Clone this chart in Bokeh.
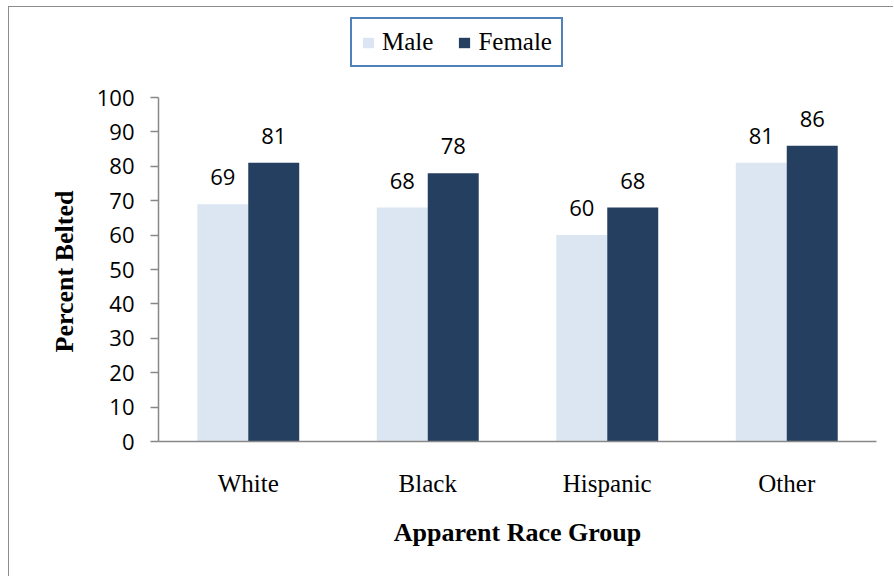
from bokeh.plotting import figure
from bokeh.models import (FactorRange, Legend, LegendItem, ColumnDataSource, Range1d,
                          FixedTicker, Title)
from bokeh.transform import dodge
from bokeh.core.properties import value
from bokeh.embed import file_html
from bokeh.resources import INLINE

# Seat belt use by apparent race group and sex
groups = ["White", "Black", "Hispanic", "Other"]
male = [69, 68, 60, 81]
female = [81, 78, 68, 86]
y_ticks = [0, 10, 20, 30, 40, 50, 60, 70, 80, 90, 100]

MALE_COLOR = "#DCE6F2"
FEMALE_COLOR = "#243F60"
AXIS_COLOR = "#888888"
SERIF = "Liberation Serif"
SANS = "Open Sans"

src = ColumnDataSource(dict(
    group=groups,
    male=male,
    female=female,
    male_txt=[str(v) for v in male],
    female_txt=[str(v) for v in female],
))

# The frame reaches above 100 so the legend can sit inside it; the axis is bounded to 0-100.
H, TOP, BOTTOM = 570, 8, 136
AXIS_TOP_PX = 90  # pixel row of the 100 mark within the canvas
plot_h = H - TOP - BOTTOM
y_end = 100 * plot_h / (H - BOTTOM - AXIS_TOP_PX)

p = figure(
    x_range=FactorRange(*groups, range_padding=0),
    y_range=Range1d(0, y_end),
    width=885, height=H,
    output_backend="svg", toolbar_location=None,
    min_border_left=149, min_border_right=18,
    min_border_top=TOP, min_border_bottom=BOTTOM,
)
p.margin = (6, 0, 0, 8)
p.styles = {"border-left": "1px solid #8c8c8c", "border-top": "1px solid #8c8c8c"}
p.outline_line_color = None
p.xgrid.grid_line_color = None
p.ygrid.grid_line_color = None

off = 0.142
bw = 0.284
r_m = p.vbar(x=dodge("group", -off, range=p.x_range), top="male", width=bw,
             source=src, fill_color=MALE_COLOR, line_color=None)
r_f = p.vbar(x=dodge("group", off, range=p.x_range), top="female", width=bw,
             source=src, fill_color=FEMALE_COLOR, line_color=None)

# value labels above each bar
for col, dx in (("male", -off), ("female", off)):
    p.text(x=dodge("group", dx, range=p.x_range), y=col, text=col + "_txt", source=src,
           text_align="center", text_baseline="alphabetic", y_offset=-27,
           text_font=value(SANS), text_font_size="22px", text_color="#000000")

# y axis
p.yaxis.bounds = (0, 100)
p.yaxis.ticker = FixedTicker(ticks=y_ticks)
p.yaxis.axis_line_color = AXIS_COLOR
p.yaxis.axis_line_width = 1.5
p.yaxis.major_tick_line_color = AXIS_COLOR
p.yaxis.major_tick_line_width = 1.5
p.yaxis.major_tick_out = 8
p.yaxis.major_tick_in = 0
p.yaxis.minor_tick_line_color = None
p.yaxis.major_label_text_font = SANS
p.yaxis.major_label_text_font_size = "22px"
p.yaxis.major_label_text_color = "#000000"
p.yaxis.major_label_standoff = 16

# y axis title, kept level with the 0-100 span of the axis
p.add_layout(Title(
    text="Percent Belted", align="left", offset=89, standoff=30,
    text_font=SERIF, text_font_style="bold", text_font_size="26px", text_color="#000000",
), "left")

# x axis
p.xaxis.axis_line_color = AXIS_COLOR
p.xaxis.axis_line_width = 1.5
p.xaxis.major_tick_line_color = None
p.xaxis.minor_tick_line_color = None
p.xaxis.major_label_text_font = SERIF
p.xaxis.major_label_text_font_size = "25px"
p.xaxis.major_label_text_color = "#000000"
p.xaxis.major_label_standoff = 22
p.xaxis.axis_label = "Apparent Race Group"
p.xaxis.axis_label_text_font = SERIF
p.xaxis.axis_label_text_font_style = "bold"
p.xaxis.axis_label_text_font_size = "26px"
p.xaxis.axis_label_text_color = "#000000"
p.xaxis.axis_label_standoff = 18

legend = Legend(
    items=[LegendItem(label="Male", renderers=[r_m]),
           LegendItem(label="Female", renderers=[r_f])],
    orientation="horizontal",
    location=(192, 374),
    label_text_font=SERIF, label_text_font_size="25px", label_text_color="#000000",
    glyph_width=14, glyph_height=13, label_standoff=7, spacing=24,
    padding=9, margin=0,
    border_line_color="#4F81BD", border_line_width=2, border_line_alpha=1,
    background_fill_color="#ffffff", background_fill_alpha=1,
)
p.add_layout(legend, "center")

open("out.html", "w").write(file_html(p, INLINE))
